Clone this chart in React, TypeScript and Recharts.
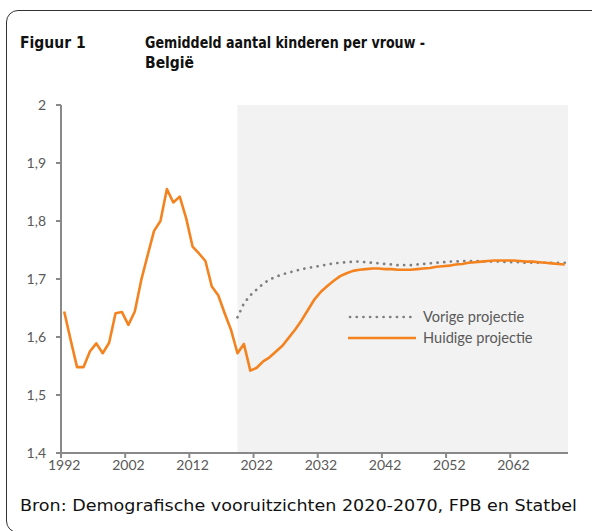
import { ComposedChart, Line, XAxis, YAxis, ReferenceArea } from 'recharts'

// Gemiddeld aantal kinderen per vrouw, België
const FIRST_YEAR = 1992
const HUIDIG = [
  1.644, 1.595, 1.548, 1.548, 1.575, 1.589, 1.572, 1.59, 1.641, 1.643,
  1.621, 1.644, 1.698, 1.741, 1.783, 1.8, 1.855, 1.832, 1.842, 1.805,
  1.756, 1.744, 1.731, 1.687, 1.672, 1.641, 1.612, 1.572, 1.588, 1.542,
  1.547, 1.558, 1.565, 1.575, 1.585, 1.599, 1.613, 1.629, 1.647, 1.665,
  1.678, 1.688, 1.697, 1.705, 1.71, 1.714, 1.716, 1.717, 1.718, 1.718,
  1.717, 1.717, 1.716, 1.716, 1.716, 1.717, 1.718, 1.719, 1.721, 1.722,
  1.723, 1.725, 1.726, 1.728, 1.729, 1.73, 1.731, 1.732, 1.732, 1.732,
  1.732, 1.731, 1.73, 1.73, 1.729, 1.728, 1.727, 1.726, 1.725,
]
const VORIG_START = 2019
const VORIG = [
  1.634, 1.658, 1.672, 1.682, 1.692, 1.699, 1.704, 1.708, 1.711, 1.714,
  1.717, 1.719, 1.721, 1.723, 1.725, 1.727, 1.728, 1.729, 1.73, 1.73,
  1.729, 1.728, 1.727, 1.726, 1.725, 1.724, 1.724, 1.724, 1.725, 1.726,
  1.727, 1.728, 1.729, 1.73, 1.73, 1.731, 1.731, 1.731, 1.731, 1.73,
  1.73, 1.73, 1.729, 1.729, 1.729, 1.728, 1.728, 1.728, 1.728, 1.728,
  1.728, 1.728,
]
const X_TICKS = [1992, 2002, 2012, 2022, 2032, 2042, 2052, 2062]
const Y_TICKS = [1.4, 1.5, 1.6, 1.7, 1.8, 1.9, 2]

const data = HUIDIG.map((v, i) => {
  const year = FIRST_YEAR + i
  const j = year - VORIG_START
  return { year, huidig: v, vorig: j >= 0 ? VORIG[j] : null }
})
const lastYear = FIRST_YEAR + HUIDIG.length - 1

const ORANGE = '#F4821F'
const DOTS = '#7F7F7F'
const AXIS = '#898989'
const LABEL = '#595959'
const TICK_FONT = 'Lato, "Open Sans", sans-serif'
const TEXT_FONT = '"DejaVu Sans Condensed", "DejaVu Sans", sans-serif'

const W = 592
const H = 490
const M = { top: 105, right: 24, bottom: 0, left: 11 }
const Y_W = 50
const X_H = 37
const halfCat = (W - M.left - M.right - Y_W) / HUIDIG.length / 2

const XTick = (props: any) => {
  const { x, y, payload } = props
  return (
    <g>
      <line x1={x - halfCat} x2={x - halfCat} y1={y} y2={y + 5} stroke={AXIS} strokeWidth={2} />
      <text x={x} y={y + 17} textAnchor="middle" fill={LABEL} fontSize={14} fontFamily={TICK_FONT}>
        {payload.value}
      </text>
    </g>
  )
}

const fmt = (v: number) => String(Number(v.toFixed(1))).replace('.', ',')

export default function App() {
  return (
    <div style={{ position: 'absolute', left: 0, top: 0, width: 592, height: 531, overflow: 'hidden', background: '#fff' }}>
      <div style={{ position: 'absolute', left: 6, top: 10, width: 620, height: 523, border: '1px solid #333', borderRadius: 12, boxSizing: 'border-box' }} />

      <div style={{ position: 'absolute', left: 0, top: 0 }}>
        <ComposedChart width={W} height={H} data={data} margin={M}>
          <ReferenceArea x1={VORIG_START} x2={lastYear + 0.5} y1={1.4} y2={2} fill="#F2F2F2" fillOpacity={1} stroke="none" />
          <XAxis
            dataKey="year"
            type="number"
            domain={[FIRST_YEAR - 0.5, lastYear + 0.5]}
            ticks={X_TICKS}
            height={X_H}
            axisLine={{ stroke: AXIS, strokeWidth: 2 }}
            tickLine={false}
            tickSize={0}
            tickMargin={0}
            tick={XTick}
            interval={0}
          />
          <YAxis
            type="number"
            domain={[1.4, 2]}
            ticks={Y_TICKS}
            width={Y_W}
            axisLine={{ stroke: AXIS, strokeWidth: 2 }}
            tickLine={{ stroke: AXIS, strokeWidth: 2 }}
            tickSize={5}
            tickMargin={10}
            tickFormatter={fmt}
            tick={{ fill: LABEL, fontSize: 14, fontFamily: TICK_FONT }}
            interval={0}
          />
          <Line dataKey="vorig" type="linear" stroke={DOTS} strokeWidth={2.7} strokeDasharray="0.1 6.6" strokeLinecap="round" dot={false} isAnimationActive={false} />
          <Line dataKey="huidig" type="linear" stroke={ORANGE} strokeWidth={2.6} strokeLinejoin="round" dot={false} isAnimationActive={false} />
        </ComposedChart>
      </div>

      <svg style={{ position: 'absolute', left: 0, top: 0 }} width={592} height={531}>
        <g fontFamily={TEXT_FONT} fontWeight="bold" fontSize={15.5} fill="#111">
          <text x={20} y={48}>Figuur 1</text>
          <text x={145} y={48} textLength={280} lengthAdjust="spacingAndGlyphs">Gemiddeld aantal kinderen per vrouw -</text>
          <text x={145} y={68}>België</text>
        </g>
        <text x={20} y={511} fontFamily={TEXT_FONT} fontSize={16} fill="#111" textLength={557} lengthAdjust="spacingAndGlyphs">
          Bron: Demografische vooruitzichten 2020-2070, FPB en Statbel
        </text>

        <line x1={350} x2={416} y1={317} y2={317} stroke={DOTS} strokeWidth={2.7} strokeDasharray="0.1 6.6" strokeLinecap="round" />
        <text x={423} y={322} fill={LABEL} fontSize={14.6} fontFamily={TICK_FONT}>Vorige projectie</text>
        <line x1={348} x2={416} y1={338} y2={338} stroke={ORANGE} strokeWidth={2.6} />
        <text x={423} y={343} fill={LABEL} fontSize={14.6} fontFamily={TICK_FONT}>Huidige projectie</text>
      </svg>
    </div>
  )
}
